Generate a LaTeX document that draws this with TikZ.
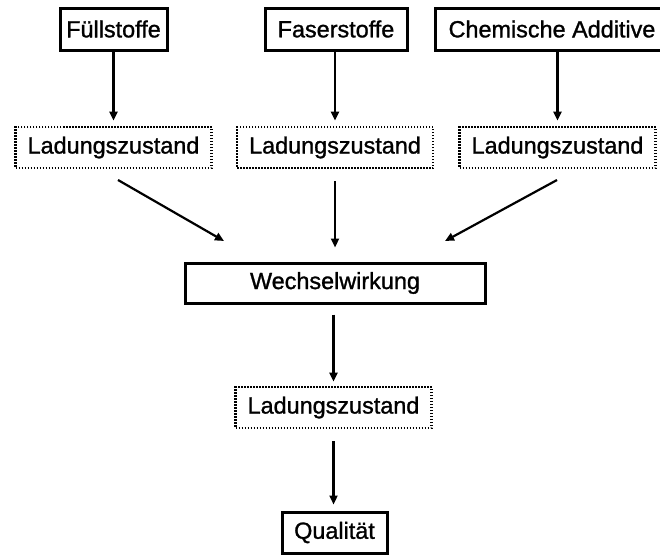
\documentclass[tikz,border=0pt]{standalone}
\usepackage{fontspec}
\setmainfont{Liberation Sans}[BoldFont={Liberation Sans},BoldFeatures={FakeBold=1.2}]
\usetikzlibrary{arrows.meta}
\begin{document}
\begin{tikzpicture}[x=1pt,y=-1pt,
  solidbox/.style={draw, line width=3pt, inner sep=0pt, minimum height=42pt, font=\fontsize{23.4pt}{26pt}\selectfont\bfseries},
  dotbox/.style={draw, line width=2.6pt, dash pattern=on 1.5pt off 1.5pt, inner sep=0pt, minimum width=196pt, minimum height=41pt, font=\fontsize{23.4pt}{26pt}\selectfont\bfseries},
  conn/.style={line width=2.2pt, -{Triangle[length=9pt,width=8pt]}}]
\useasboundingbox (0,0) rectangle (660,554);
\node[solidbox, minimum width=107pt] (f) at (113.5,29) {Füllstoffe};
\node[solidbox, minimum width=142pt] (s) at (336,29) {Faserstoffe};
\node[solidbox, minimum width=234pt] (c) at (552,29) {Chemische Additive};
\node[dotbox] (l1) at (113.5,147.5) {Ladungszustand};
\node[dotbox] (l2) at (335,147.5) {Ladungszustand};
\node[dotbox] (l3) at (557.5,147.5) {Ladungszustand};
\node[solidbox, minimum width=300pt, minimum height=40pt] (w) at (335,283) {Wechselwirkung};
\node[dotbox] (l4) at (333.5,407.5) {Ladungszustand};
\node[solidbox, minimum width=105pt, minimum height=41pt] (q) at (334.5,532.5) {Qualität};
\coordinate (a1) at (118,180);
\coordinate (b1) at (224,241);
\coordinate (a3) at (557,180);
\coordinate (b3) at (445,241);
\draw[conn, shorten >=5pt] (f.south) -- (l1.north);
\draw[conn, shorten >=5pt] (s.south -| l2.north) -- (l2.north);
\draw[conn, shorten >=5pt] (c.south -| l3.north) -- (l3.north);
\draw[conn] (a1) -- (b1);
\draw[conn, shorten <=12pt, shorten >=14pt] (l2.south) -- (w.north -| l2.south);
\draw[conn] (a3) -- (b3);
\draw[conn, shorten <=10pt, shorten >=4pt] (w.south -| l4.north) -- (l4.north);
\draw[conn, shorten <=12pt, shorten >=6pt] (l4.south) -- (q.north -| l4.south);
\end{tikzpicture}
\end{document}
